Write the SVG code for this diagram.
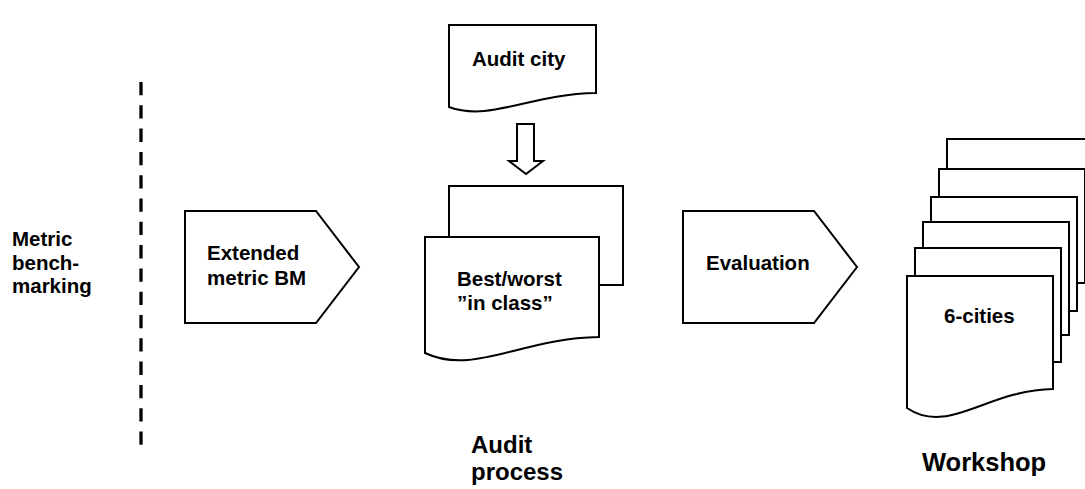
<svg xmlns="http://www.w3.org/2000/svg" width="1085" height="489" viewBox="0 0 1085 489">
  <style>
    .shape { fill: #ffffff; stroke: #000000; stroke-width: 2; stroke-linejoin: miter; }
    .txt { font-family: "Liberation Sans", Arial, sans-serif; font-weight: bold; font-size: 20.5px; fill: #000000; }
    .lbl { font-family: "Liberation Sans", Arial, sans-serif; font-weight: bold; font-size: 25.5px; fill: #000000; }
    .lbl2 { font-family: "Liberation Sans", Arial, sans-serif; font-weight: bold; font-size: 24px; fill: #000000; }
    .divider { stroke: #000000; stroke-width: 3.3; stroke-dasharray: 13.3 10; fill: none; }
  </style>
  <rect width="1085" height="489" fill="#ffffff"/>

  <g id="divider">
    <line class="divider" x1="141" y1="82" x2="141" y2="446"/>
  </g>

  <g id="metric-benchmarking-label">
    <text class="txt" x="12" y="246">Metric<tspan x="12" dy="24">bench-</tspan><tspan x="12" dy="23">marking</tspan></text>
  </g>

  <g id="extended-metric-bm">
    <path class="shape" d="M185,211 L316,211 L359,267 L316,323 L185,323 Z"/>
    <text class="txt" x="207" y="260">Extended<tspan x="207" dy="25">metric BM</tspan></text>
  </g>

  <g id="audit-city">
    <path class="shape" d="M449,25 L596,25 L596,93 C530,94 490,122 449,107 Z"/>
    <text class="txt" x="472" y="66">Audit city</text>
  </g>

  <g id="connectors">
    <path class="shape" d="M517,124 L534,124 L534,161 L543,161 L526,174 L509,161 L517,161 Z"/>
  </g>

  <g id="best-worst">
    <rect class="shape" x="449" y="186" width="174" height="99"/>
    <path class="shape" d="M425,237 L599,237 L599,337 C521,338 474,376 425,353 Z"/>
    <text class="txt" x="457" y="286">Best/worst<tspan x="457" dy="24">”in class”</tspan></text>
  </g>

  <g id="evaluation">
    <path class="shape" d="M683,211 L814,211 L857,267 L814,323 L683,323 Z"/>
    <text class="txt" x="706" y="270">Evaluation</text>
  </g>

  <g id="six-cities">
    <rect class="shape" x="947" y="139" width="146" height="114"/>
    <rect class="shape" x="939" y="169" width="146" height="114"/>
    <rect class="shape" x="931" y="197" width="146" height="114"/>
    <rect class="shape" x="923" y="222" width="146" height="113"/>
    <rect class="shape" x="915" y="248" width="146" height="114"/>
    <path class="shape" d="M907,276 L1053,276 L1053,389 C987,390 948,436 907,408 Z"/>
    <text class="txt" x="944" y="323">6-cities</text>
  </g>

  <g id="audit-process-label">
    <text class="lbl2" x="471" y="453">Audit<tspan x="471" dy="27">process</tspan></text>
  </g>

  <g id="workshop-label">
    <text class="lbl" x="922" y="471">Workshop</text>
  </g>
</svg>
